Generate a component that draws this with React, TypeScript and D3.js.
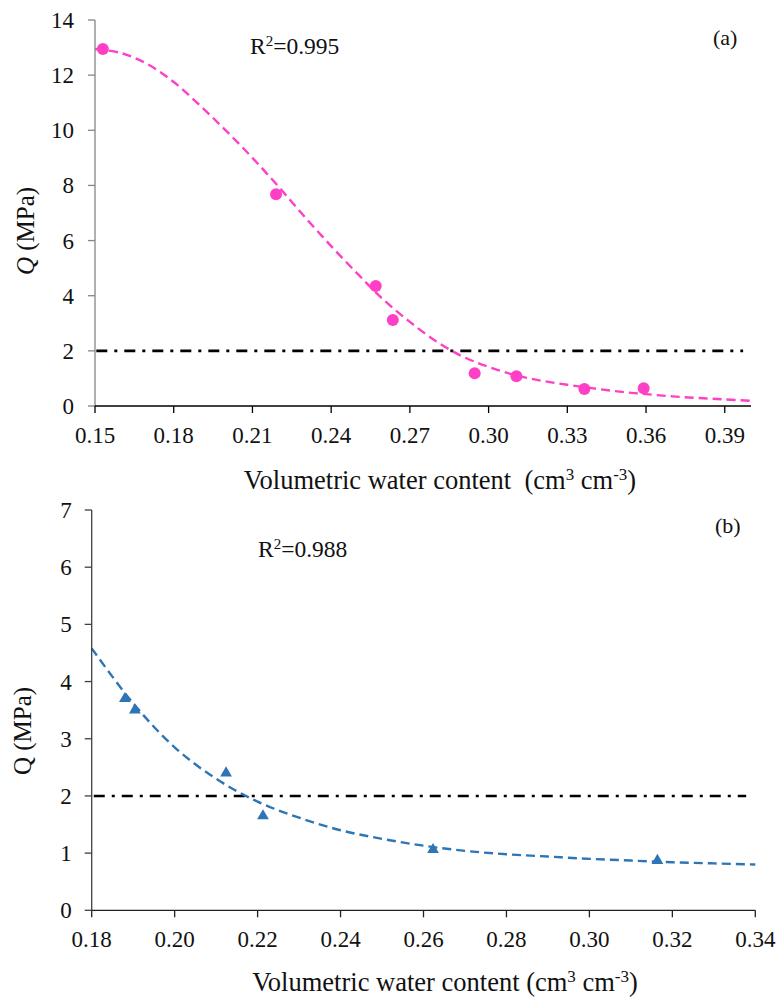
import React from "react";
import * as d3 from "d3";

// panel (a) measured points
const waterA = [0.153, 0.219, 0.257, 0.2635, 0.2947, 0.3106, 0.3365, 0.3591];
const qA = [12.95, 7.68, 4.35, 3.12, 1.19, 1.08, 0.62, 0.64];
// panel (a) fitted curve
const fitWaterA = [0.15, 0.16, 0.17, 0.18, 0.19, 0.2, 0.21, 0.22, 0.23, 0.24, 0.25, 0.26, 0.27, 0.28, 0.29, 0.3, 0.31, 0.32, 0.33, 0.34, 0.35, 0.36, 0.37, 0.38, 0.39, 0.4];
const fitQA = [12.95, 12.8, 12.4, 11.75, 10.9, 9.98, 9.0, 7.95, 6.85, 5.8, 4.8, 3.85, 3.05, 2.35, 1.8, 1.42, 1.12, 0.92, 0.77, 0.64, 0.52, 0.43, 0.35, 0.29, 0.24, 0.19];
const xTicksA = [0.15, 0.18, 0.21, 0.24, 0.27, 0.3, 0.33, 0.36, 0.39];
const yTicksA = [0, 2, 4, 6, 8, 10, 12, 14];

// panel (b)
const waterB = [0.188, 0.1904, 0.2124, 0.2213, 0.2623, 0.3164];
const qB = [3.7, 3.5, 2.4, 1.65, 1.06, 0.87];
const fitWaterB = [0.18, 0.19, 0.2, 0.21, 0.22, 0.23, 0.24, 0.25, 0.26, 0.27, 0.28, 0.29, 0.3, 0.31, 0.32, 0.33, 0.34];
const fitQB = [4.58, 3.62, 2.85, 2.3, 1.9, 1.62, 1.4, 1.25, 1.13, 1.04, 0.98, 0.94, 0.9, 0.87, 0.84, 0.82, 0.8];
const xTicksB = [0.18, 0.2, 0.22, 0.24, 0.26, 0.28, 0.3, 0.32, 0.34];
const yTicksB = [0, 1, 2, 3, 4, 5, 6, 7];

const threshold = 2; // MPa limit line

const FONT = "Liberation Serif";

type PanelProps = {
  xDomain: [number, number];
  yDomain: [number, number];
  xRange: [number, number];
  yRange: [number, number];
  xTicks: number[];
  yTicks: number[];
  xs: number[];
  ys: number[];
  fitX: number[];
  fitY: number[];
  refX: [number, number];
  color: string;
  marker: "circle" | "triangle";
  yAxisColor: string;
  xAxisColor: string;
  yLabelGap: number;
  r2: string;
  r2Pos: [number, number];
  tag: string;
  tagPos: [number, number];
  xTitle: string[];
  xTitlePos: [number, number];
  yTitlePos: [number, number];
  italicQ: boolean;
};

function Panel(p: PanelProps) {
  const x = d3.scaleLinear().domain(p.xDomain).range(p.xRange);
  const y = d3.scaleLinear().domain(p.yDomain).range(p.yRange);
  const fit = p.fitX.map((v, i) => [v, p.fitY[i]] as [number, number]);
  const line = d3
    .line<[number, number]>()
    .x((d) => x(d[0]))
    .y((d) => y(d[1]))
    .curve(d3.curveCatmullRom.alpha(0.5));
  const tri = d3.symbol().type(d3.symbolTriangle).size(60)();
  const x0 = p.xRange[0];
  const y0 = p.yRange[0];

  return (
    <g style={{ fontFamily: FONT }} fill="#111">
      {/* reference line */}
      <line
        x1={x(p.refX[0])}
        x2={x(p.refX[1])}
        y1={y(threshold)}
        y2={y(threshold)}
        stroke="#000"
        strokeWidth={2.6}
        strokeDasharray="11,7,3,7"
      />
      {/* fitted curve */}
      <path d={line(fit) ?? ""} fill="none" stroke={p.color} strokeWidth={2.4} strokeDasharray="9,5" />
      {/* points */}
      {p.xs.map((v, i) =>
        p.marker === "circle" ? (
          <circle key={i} cx={x(v)} cy={y(p.ys[i])} r={6} fill={p.color} />
        ) : (
          <path key={i} d={tri ?? ""} transform={`translate(${x(v)},${y(p.ys[i])})`} fill={p.color} />
        )
      )}
      {/* axes */}
      <line x1={x0} x2={x0} y1={p.yRange[1]} y2={y0} stroke={p.yAxisColor} strokeWidth={1.3} />
      <line x1={x0} x2={p.xRange[1]} y1={y0} y2={y0} stroke={p.xAxisColor} strokeWidth={1.3} />
      {p.yTicks.map((t) => (
        <g key={"y" + t}>
          <line x1={x0 - 7} x2={x0} y1={y(t)} y2={y(t)} stroke={p.yAxisColor} strokeWidth={1.3} />
          <text x={x0 - p.yLabelGap} y={y(t)} dy="0.35em" textAnchor="end" fontSize={23}>
            {t}
          </text>
        </g>
      ))}
      {p.xTicks.map((t) => (
        <g key={"x" + t}>
          <line x1={x(t)} x2={x(t)} y1={y0} y2={y0 + 7} stroke={p.xAxisColor} strokeWidth={1.3} />
          <text x={x(t)} y={y0 + 37} textAnchor="middle" fontSize={23}>
            {d3.format(".2f")(t)}
          </text>
        </g>
      ))}
      {/* annotations */}
      <text x={p.r2Pos[0]} y={p.r2Pos[1]} fontSize={23.5}>
        R<tspan fontSize={15} dy={-8}>2</tspan>
        <tspan dy={8}>{p.r2}</tspan>
      </text>
      <text x={p.tagPos[0]} y={p.tagPos[1]} fontSize={22}>
        {p.tag}
      </text>
      <text x={p.xTitlePos[0]} y={p.xTitlePos[1]} textAnchor="middle" fontSize={26.5} style={{ whiteSpace: "pre" }}>
        {p.xTitle[0]}
        <tspan fontSize={17} dy={-9}>3</tspan>
        <tspan dy={9}>{p.xTitle[1]}</tspan>
        <tspan fontSize={17} dy={-9}>-3</tspan>
        <tspan dy={9}>)</tspan>
      </text>
      <text
        transform={`translate(${p.yTitlePos[0]},${p.yTitlePos[1]}) rotate(-90)`}
        textAnchor="middle"
        fontSize={25}
      >
        <tspan fontStyle={p.italicQ ? "italic" : "normal"}>Q</tspan> (MPa)
      </text>
    </g>
  );
}

export default function App() {
  return (
    <svg
      width={777}
      height={999}
      style={{ position: "absolute", left: 0, top: 0, background: "#fff" }}
    >
      <Panel
        xDomain={[0.15, 0.4]}
        yDomain={[0, 14]}
        xRange={[95, 751]}
        yRange={[406, 20]}
        xTicks={xTicksA}
        yTicks={yTicksA}
        xs={waterA}
        ys={qA}
        fitX={fitWaterA}
        fitY={fitQA}
        refX={[0.1505, 0.397]}
        color="#FF40C6"
        marker="circle"
        yAxisColor="#868686"
        xAxisColor="#000"
        yLabelGap={21}
        r2="=0.995"
        r2Pos={[250, 54]}
        tag="(a)"
        tagPos={[713, 45]}
        xTitle={["Volumetric water content  (cm", " cm"]}
        xTitlePos={[440, 489]}
        yTitlePos={[34, 231]}
        italicQ={true}
      />
      <Panel
        xDomain={[0.18, 0.34]}
        yDomain={[0, 7]}
        xRange={[91.7, 755.3]}
        yRange={[910.3, 510]}
        xTicks={xTicksB}
        yTicks={yTicksB}
        xs={waterB}
        ys={qB}
        fitX={fitWaterB}
        fitY={fitQB}
        refX={[0.1805, 0.3378]}
        color="#2E75B6"
        marker="triangle"
        yAxisColor="#404040"
        xAxisColor="#222"
        yLabelGap={20}
        r2="=0.988"
        r2Pos={[258, 557]}
        tag="(b)"
        tagPos={[715, 533]}
        xTitle={["Volumetric water content (cm", " cm"]}
        xTitlePos={[445, 991]}
        yTitlePos={[31, 731]}
        italicQ={false}
      />
    </svg>
  );
}
